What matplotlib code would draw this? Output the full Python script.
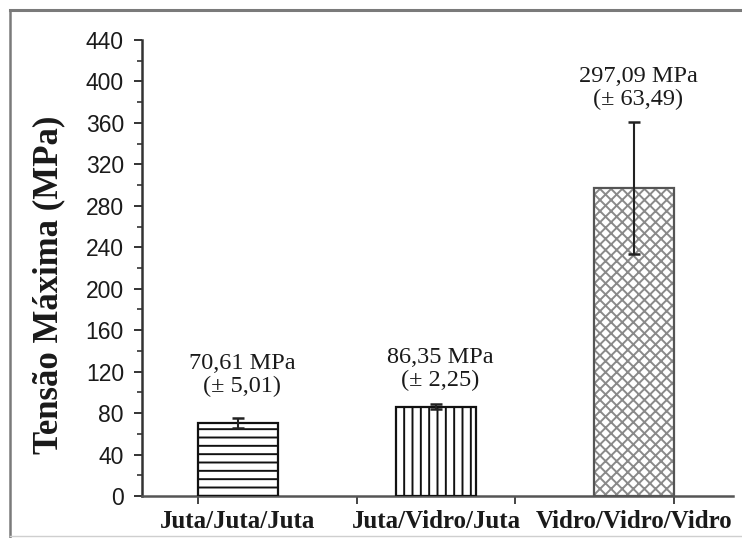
import matplotlib
matplotlib.use("Agg")
import matplotlib.pyplot as plt
from matplotlib.lines import Line2D
from matplotlib.ticker import MultipleLocator, FixedLocator

# Data
categories = ["Juta/Juta/Juta", "Juta/Vidro/Juta", "Vidro/Vidro/Vidro"]
tensao_media = [70.61, 86.35, 297.09]
desvio_padrao = [5.01, 2.25, 63.49]
rotulos_media = ["70,61 MPa", "86,35 MPa", "297,09 MPa"]
rotulos_desvio = ["(± 5,01)", "(± 2,25)", "(± 63,49)"]

# Styling
hatches = ["--", "||", "xxx"]
hatch_colors = ["#111111", "#111111", "#8a8a8a"]
edge_colors = ["#111111", "#111111", "#555555"]
label_gap = [20, 13, 12]

plt.rcParams["hatch.linewidth"] = 1.4

fig = plt.figure(figsize=(7.42, 5.38), dpi=100)
ax = fig.add_axes([142 / 742, 1 - 496 / 538, (733 - 142) / 742, (496 - 40) / 538])

positions = [1, 2, 3]
width = 0.40

# hatch layer (hatch takes the edge colour), then an outline layer on top
ax.bar(positions, tensao_media, width=width, color="white",
       edgecolor=hatch_colors, hatch=hatches, linewidth=0, zorder=2)
ax.bar(positions, tensao_media, width=width, color="none",
       edgecolor=edge_colors, linewidth=1.6, zorder=3)

ax.errorbar(positions, tensao_media, yerr=desvio_padrao, fmt="none",
            ecolor="#222222", elinewidth=1.5, capsize=4.5, capthick=1.8, zorder=4)

serif = ["Liberation Serif", "DejaVu Serif"]
sans = ["Liberation Sans", "DejaVu Sans"]

for x, m, s, g, t1, t2 in zip(positions, tensao_media, desvio_padrao, label_gap,
                              rotulos_media, rotulos_desvio):
    ax.text(x + 0.02, m + s + g, t1 + "\n" + t2, ha="center", va="bottom",
            multialignment="center", fontsize=17.5, family=serif,
            color="#1a1a1a", linespacing=1.12)

ax.set_xlim(0.515, 3.5)
ax.set_ylim(0, 440)

ax.yaxis.set_major_locator(MultipleLocator(40))
ax.yaxis.set_minor_locator(MultipleLocator(20))
ax.tick_params(axis="y", which="major", length=6, width=1.4, direction="out",
               pad=7, labelsize=16.5, color="#333333")
ax.tick_params(axis="y", which="minor", length=3.5, width=1.2, direction="out",
               color="#333333")
for lab in ax.get_yticklabels():
    lab.set_family(sans)
    lab.set_color("#1a1a1a")

ax.xaxis.set_major_locator(FixedLocator(positions))
ax.xaxis.set_minor_locator(FixedLocator([0.8, 1.6, 2.4, 3.2]))
ax.set_xticklabels(categories)
ax.tick_params(axis="x", which="major", length=0, pad=10, labelsize=18)
ax.tick_params(axis="x", which="minor", length=6, width=1.4, direction="out",
               color="#444444")
for lab in ax.get_xticklabels():
    lab.set_family(serif)
    lab.set_fontweight("bold")
    lab.set_color("#1a1a1a")

ax.set_ylabel("Tensão Máxima (MPa)", family=serif, fontweight="bold",
              fontsize=25, color="#1a1a1a")
ax.yaxis.set_label_coords(-0.129, 0.463)

for side in ("top", "right"):
    ax.spines[side].set_visible(False)
ax.spines["left"].set_color("#333333")
ax.spines["left"].set_linewidth(1.8)
ax.spines["bottom"].set_color("#555555")
ax.spines["bottom"].set_linewidth(1.8)

# outer frame
W, H = 742, 538
fig.add_artist(Line2D([10 / W, 1.0], [1 - 10 / H, 1 - 10 / H],
                      transform=fig.transFigure, color="#7a7a7a", linewidth=2.2))
fig.add_artist(Line2D([10 / W, 10 / W], [1 - 10 / H, 0.0],
                      transform=fig.transFigure, color="#7a7a7a", linewidth=1.8))
fig.add_artist(Line2D([10 / W, 1.0], [2 / H, 2 / H],
                      transform=fig.transFigure, color="#cfcfcf", linewidth=1.0))

fig.savefig("out.png", dpi=100)
